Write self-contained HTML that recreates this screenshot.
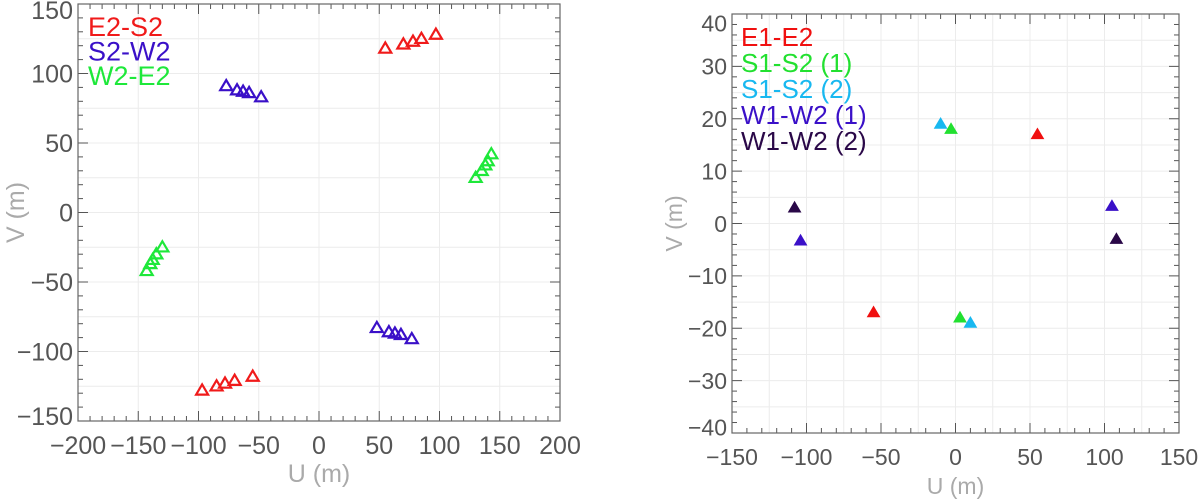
<!DOCTYPE html>
<html><head><meta charset="utf-8"><style>
body{margin:0;background:#fff;}
svg{display:block;}
text{font-family:"Liberation Sans",sans-serif;}
</style></head><body>
<svg width="1200" height="502" viewBox="0 0 1200 502">
<g id="left"></g>
<g id="right"></g>
</svg>
<script>
// Left panel data
const leftSeriesNames = ["E2-S2","S2-W2","W2-E2"];
const leftColors = ["#f01a1a","#3a10c8","#1ee83a"];
const leftU = [
 [55,70,78,85,97,-55,-70,-78,-85,-97],
 [-77,-68,-63,-58,-48,77,68,63,58,48],
 [130,135,138,140,143,-130,-135,-138,-140,-143]
];
const leftV = [
 [118,121,123,125,128,-118,-121,-123,-125,-128],
 [91,88,87,86,83,-91,-88,-87,-86,-83],
 [25,30,34,37,42,-25,-30,-34,-37,-42]
];
const leftXTicks = [-200,-150,-100,-50,0,50,100,150,200];
const leftYTicks = [-150,-100,-50,0,50,100,150];
// Right panel data
const rightSeriesNames = ["E1-E2","S1-S2 (1)","S1-S2 (2)","W1-W2 (1)","W1-W2 (2)"];
const rightColors = ["#f01010","#22e030","#18b8f0","#3a10c8","#2a0848"];
const rightU = [[55,-55],[-3,3],[-10,10],[105,-104],[-108,108]];
const rightV = [[17,-17],[18,-18],[19,-19],[3.3,-3.3],[3,-3]];
const rightXTicks = [-150,-100,-50,0,50,100,150];
const rightYTicks = [-40,-30,-20,-10,0,10,20,30,40];

const NS="http://www.w3.org/2000/svg";
function mk(parent,tag,attrs){const e=document.createElementNS(NS,tag);for(const k in attrs)e.setAttribute(k,attrs[k]);parent.appendChild(e);return e;}

function panel(g,cfg){
 const {x0,x1,y0,y1,xmin,xmax,ymin,ymax,xticks,yticks,xminor,yminor,fs,filled,names,colors,U,V,legX,legY,legStep,legFs}=cfg;
 const sx=u=>x0+(u-xmin)/(xmax-xmin)*(x1-x0);
 const sy=v=>y1-(v-ymin)/(ymax-ymin)*(y1-y0);
 for(let u=xmin;u<=xmax+1e-9;u+=cfg.gridX){
  const l=mk(g,'line',{x1:sx(u),x2:sx(u),y1:y0,y2:y1,stroke:'#ececec','stroke-width':1});
  
  
 }
 for(let v=ymin;v<=ymax+1e-9;v+=cfg.gridY){
  const l=mk(g,'line',{x1:x0,x2:x1,y1:sy(v),y2:sy(v),stroke:'#ececec','stroke-width':1});
  
  
 }
 for(let u=xmin;u<=xmax+1e-9;u+=xminor){
  const maj=xticks.some(t=>Math.abs(t-u)<1e-6);const L=maj?10:5;
  mk(g,'line',{x1:sx(u),x2:sx(u),y1:y1,y2:y1-L,stroke:'#555','stroke-width':1});
  mk(g,'line',{x1:sx(u),x2:sx(u),y1:y0,y2:y0+L,stroke:'#555','stroke-width':1});
 }
 for(let v=ymin;v<=ymax+1e-9;v+=yminor){
  const maj=yticks.some(t=>Math.abs(t-v)<1e-6);const L=maj?10:5;
  mk(g,'line',{x1:x0,x2:x0+L,y1:sy(v),y2:sy(v),stroke:'#555','stroke-width':1});
  mk(g,'line',{x1:x1,x2:x1-L,y1:sy(v),y2:sy(v),stroke:'#555','stroke-width':1});
 }
 const box=mk(g,'rect',{x:x0,y:y0,width:x1-x0,height:y1-y0,fill:'none',stroke:'#666','stroke-width':1.2});
 
 
 xticks.forEach(t=>{
  const e=mk(g,'text',{x:sx(t),y:cfg.xlabY,'text-anchor':'middle','font-size':fs,fill:'#555','font-weight':'300'});
  e.textContent=(t<0?'\u2212'+(-t):t);
  
  
 });
 yticks.forEach(t=>{
  let c=sy(t);c=Math.max(cfg.yLabMin,Math.min(cfg.yLabMax,c));
  const e=mk(g,'text',{x:x0-5,y:c+fs*0.36,'text-anchor':'end','font-size':fs,fill:'#555'});
  e.textContent=(t<0?'\u2212'+(-t):t);
  
  
 });
 const xt=mk(g,'text',{x:(x0+x1)/2,y:cfg.xtitleY,'text-anchor':'middle','font-size':fs,fill:'#aaa'});
 xt.textContent='U  (m)';
 
 
 const yt=mk(g,'text',{x:0,y:0,'text-anchor':'middle','font-size':fs,fill:'#aaa',transform:`translate(${cfg.ytitleX},${(y0+y1)/2}) rotate(-90)`});
 yt.textContent='V  (m)';
 
 
 U.forEach((us,i)=>{
  us.forEach((u,j)=>{
   const cx=sx(u),cy=sy(V[i][j]);const s=cfg.ms;
   const p=mk(g,'polygon',{points:`${cx-s},${cy+s*0.7} ${cx+s},${cy+s*0.7} ${cx},${cy-s*1.0}`,
     fill:filled?colors[i]:'none',stroke:colors[i],'stroke-width':filled?1:2.2});
   
   
  });
  const lt=mk(g,'text',{x:legX,y:legY+i*legStep,'font-size':legFs,fill:colors[i]});
  lt.textContent=names[i];
  
  
 });
}
panel(document.getElementById('left'),{x0:78,x1:560,y0:4,y1:421,xmin:-200,xmax:200,ymin:-150,ymax:150,
 xticks:leftXTicks,yticks:leftYTicks,xminor:10,yminor:10,gridX:50,gridY:25,fs:25,filled:false,
 names:leftSeriesNames,colors:leftColors,U:leftU,V:leftV,legX:88,legY:36,legStep:24.5,legFs:27,
 xlabY:454,xtitleY:482,ytitleX:24,ms:6,yLabMin:10,yLabMax:416});
panel(document.getElementById('right'),{x0:732,x1:1179,y0:14,y1:433,xmin:-150,xmax:150,ymin:-40,ymax:40,
 xticks:rightXTicks,yticks:rightYTicks,xminor:10,yminor:2,gridX:25,gridY:5,fs:23,filled:true,
 names:rightSeriesNames,colors:rightColors,U:rightU,V:rightV,legX:741,legY:46,legStep:26,legFs:26,
 xlabY:465,xtitleY:494,ytitleX:682,ms:6,yLabMin:23,yLabMax:427});
</script>
</body></html>
